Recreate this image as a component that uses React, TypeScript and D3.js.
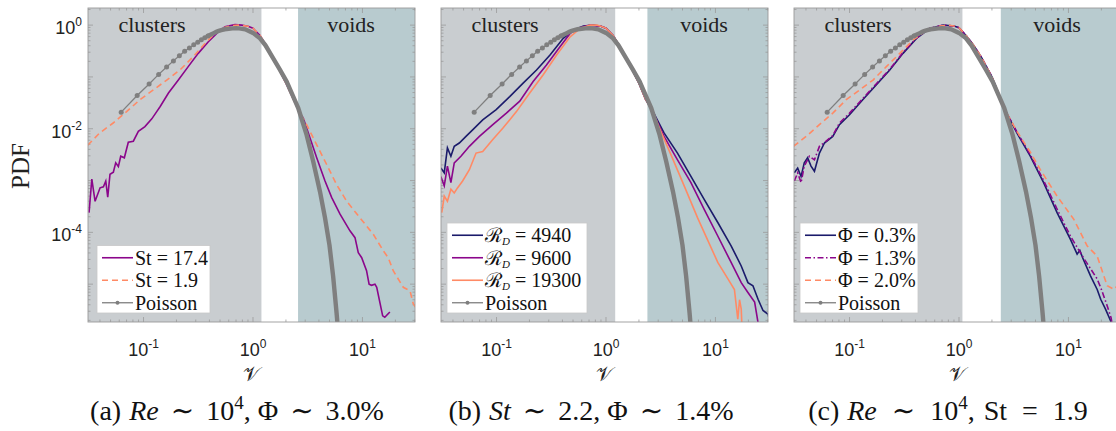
import React from "react";
import * as d3 from "d3";

// ---- data: [v, pdf] ----
const poisson: [number, number][] = [
  [0.0625, 0.0209], [0.0875, 0.0437], [0.1125, 0.0733], [0.1375, 0.112], [0.1625, 0.155],
  [0.1875, 0.204], [0.2125, 0.257], [0.2375, 0.313], [0.2625, 0.363], [0.2875, 0.417],
  [0.3125, 0.468], [0.3375, 0.519], [0.3625, 0.569], [0.3875, 0.617], [0.4125, 0.661],
  [0.4375, 0.7], [0.4625, 0.741], [0.4875, 0.776], [0.5125, 0.8], [0.55, 0.832],
  [0.6, 0.851], [0.65, 0.865], [0.7, 0.871], [0.75, 0.867], [0.85, 0.832], [1.0, 0.708],
  [1.16, 0.555], [1.3, 0.407], [1.53, 0.229], [1.75, 0.141], [2.03, 0.0813], [2.3, 0.0447],
  [2.59, 0.0251], [3.09, 0.00759], [3.55, 0.00234], [4.09, 6.17e-4], [4.55, 1.91e-4],
  [5.0, 5.6e-5], [5.4, 1.41e-5], [5.8, 2.8e-6], [6.1, 7.9e-7],
];

const st174: [number, number][] = [
  [0.0318, 2.4e-4], [0.0337, 1.07e-3], [0.0361, 3.98e-4], [0.0401, 7.24e-4], [0.043, 7.59e-4],
  [0.0452, 9.77e-4], [0.0471, 4.79e-4], [0.0494, 1.32e-3], [0.053, 1.45e-3], [0.0557, 2.19e-3],
  [0.0589, 1.86e-3], [0.0619, 2.95e-3], [0.0668, 2.75e-3], [0.0726, 5.5e-3], [0.0807, 5.75e-3],
  [0.0897, 8.9e-3], [0.103, 0.011], [0.119, 0.0155], [0.132, 0.0214], [0.142, 0.0269],
  [0.169, 0.049], [0.208, 0.087], [0.256, 0.158], [0.316, 0.285], [0.391, 0.479],
  [0.482, 0.741], [0.555, 0.933], [0.685, 1.02], [0.789, 1.0], [0.9, 0.95], [1.0, 0.87],
  [1.16, 0.63], [1.35, 0.38], [1.6, 0.19], [2.0, 0.076], [2.4, 0.033], [2.69, 0.02],
  [2.88, 0.0161], [3.32, 6.6e-3], [3.82, 2.75e-3], [4.55, 9.8e-4], [5.24, 4.68e-4],
  [6.24, 2.24e-4], [7.69, 1.07e-4], [8.55, 7.9e-5], [9.16, 4.07e-5], [9.84, 3.24e-5],
  [10.9, 1.82e-5], [11.5, 1.0e-5], [12.1, 9.5e-6], [13.0, 1.0e-5], [13.5, 8.7e-6],
  [14.5, 4.2e-6], [15.3, 2.45e-6], [16.0, 2.3e-6], [17.8, 2.9e-6],
];

const st19: [number, number][] = [
  [0.0309, 4.8e-3], [0.0398, 8.3e-3], [0.0528, 0.0129], [0.07, 0.0214], [0.0927, 0.0363],
  [0.123, 0.0562], [0.163, 0.0871], [0.215, 0.136], [0.284, 0.245], [0.377, 0.479],
  [0.465, 0.74], [0.55, 0.9], [0.65, 0.98], [0.75, 1.0], [0.9, 0.95], [1.0, 0.87],
  [1.16, 0.63], [1.35, 0.38], [1.6, 0.19], [2.0, 0.076], [2.4, 0.033], [2.69, 0.02],
  [3.09, 0.012], [3.82, 4.9e-3], [4.71, 2.04e-3], [5.81, 8.3e-4], [7.18, 3.98e-4],
  [9.48, 1.91e-4], [12.6, 9.1e-5], [15.5, 4.4e-5], [17.2, 3.24e-5], [19.1, 1.82e-5],
  [23.6, 8.7e-6], [27.2, 7.4e-6], [29.1, 4.2e-6], [31.6, 3.2e-6],
];

const rd4940: [number, number][] = [
  [0.031, 1.75e-3], [0.0333, 1.41e-3], [0.0356, 4.27e-3], [0.0383, 2.95e-3], [0.0411, 4.57e-3],
  [0.0457, 5.3e-3], [0.0526, 7.1e-3], [0.0605, 9.5e-3], [0.0748, 0.0148], [0.0993, 0.0234],
  [0.132, 0.0417], [0.175, 0.0759], [0.232, 0.136], [0.308, 0.265], [0.407, 0.555],
  [0.504, 0.8], [0.622, 0.955], [0.769, 1.0], [0.9, 0.95], [1.0, 0.87], [1.16, 0.63],
  [1.35, 0.38], [1.6, 0.19], [2.0, 0.076], [2.3, 0.037], [2.56, 0.026], [3.39, 8.3e-3],
  [4.5, 3.39e-3], [5.97, 1.2e-3], [7.91, 4.27e-4], [10.5, 1.55e-4], [13.9, 5.5e-5],
  [17.2, 2.24e-5], [19.8, 1.07e-5], [22.0, 9.3e-6], [24.5, 5.1e-6], [27.2, 3.1e-6],
  [30.3, 2.6e-6], [32, 1.5e-6],
];

const rd9600: [number, number][] = [
  [0.031, 1.2e-3], [0.0333, 7.9e-4], [0.0356, 1.9e-3], [0.0383, 9.1e-4], [0.0411, 2.19e-3],
  [0.0473, 2.95e-3], [0.0565, 4.57e-3], [0.0698, 7.1e-3], [0.0925, 0.012], [0.123, 0.02],
  [0.163, 0.034], [0.216, 0.0813], [0.286, 0.17], [0.38, 0.383], [0.47, 0.692],
  [0.581, 0.9], [0.718, 1.0], [0.9, 0.95], [1.0, 0.87], [1.16, 0.63], [1.35, 0.38],
  [1.6, 0.19], [2.0, 0.076], [2.3, 0.037], [2.56, 0.026], [3.39, 7.1e-3], [4.5, 2.51e-3],
  [5.97, 9.1e-4], [7.91, 2.75e-4], [10.5, 8.5e-5], [13.9, 2.63e-5], [17.2, 1.07e-5],
  [19.8, 6.9e-6], [22.8, 4.5e-6], [24.5, 1.8e-6], [25.1, 1e-6],
];

const rd19300: [number, number][] = [
  [0.0316, 2.4e-4], [0.0333, 5.0e-4], [0.0356, 3.98e-4], [0.0383, 6.8e-4], [0.0411, 5.75e-4],
  [0.044, 7.2e-4], [0.049, 9.8e-4], [0.0565, 1.62e-3], [0.065, 3.39e-3], [0.0748, 3.63e-3],
  [0.0925, 6.2e-3], [0.114, 0.0102], [0.152, 0.0214], [0.201, 0.049], [0.267, 0.11],
  [0.354, 0.265], [0.47, 0.596], [0.581, 0.863], [0.718, 1.0], [0.826, 1.0], [0.9, 0.95],
  [1.0, 0.87], [1.16, 0.63], [1.35, 0.38], [1.6, 0.19], [2.0, 0.076], [2.3, 0.037],
  [2.56, 0.026], [3.16, 9e-3], [3.91, 3.2e-3], [5.18, 7.9e-4], [6.87, 1.9e-4],
  [8.49, 7.1e-5], [10.5, 2.63e-5], [13.0, 1.26e-5], [14.9, 7.9e-6], [16.0, 2.1e-6],
  [16.6, 5e-6], [17.2, 3.3e-6], [17.6, 1e-6],
];

const phi03: [number, number][] = [
  [0.0313, 1.41e-3], [0.0336, 1.74e-3], [0.0361, 1.2e-3], [0.0386, 2.19e-3], [0.0414, 2.75e-3],
  [0.0445, 1.9e-3], [0.0478, 1.51e-3], [0.0531, 3.39e-3], [0.059, 5.3e-3], [0.0703, 7.1e-3],
  [0.0809, 0.012], [0.1, 0.0186], [0.132, 0.0363], [0.176, 0.0708], [0.233, 0.136],
  [0.308, 0.285], [0.409, 0.555], [0.542, 0.863], [0.718, 1.0], [0.9, 0.96], [1.0, 0.89],
  [1.16, 0.63], [1.35, 0.42], [1.6, 0.24], [2.0, 0.1], [2.3, 0.048], [2.55, 0.026],
  [3.38, 8.3e-3], [4.48, 2.95e-3], [5.93, 9.1e-4], [7.87, 2.4e-4], [10.4, 7.4e-5],
  [12.0, 3.8e-5], [12.7, 4.5e-5], [13.5, 3.2e-5], [15.9, 1.45e-5], [18.3, 7.9e-6],
  [19.7, 5.1e-6], [21.8, 3.3e-6], [24.3, 1.95e-6], [25.1, 1.26e-6],
];

const phi13: [number, number][] = [
  [0.0313, 9.8e-4], [0.0336, 1.41e-3], [0.0361, 9.1e-4], [0.0386, 1.9e-3], [0.043, 2.95e-3],
  [0.0478, 2.51e-3], [0.0531, 4.57e-3], [0.0611, 5.75e-3], [0.0703, 7.4e-3], [0.0809, 0.0129],
  [0.1, 0.02], [0.132, 0.038], [0.176, 0.0741], [0.233, 0.141], [0.308, 0.295],
  [0.409, 0.562], [0.542, 0.871], [0.718, 1.0], [0.9, 0.96], [1.0, 0.89], [1.16, 0.63],
  [1.35, 0.42], [1.6, 0.24], [2.0, 0.1], [2.3, 0.048], [2.55, 0.026], [3.38, 8.7e-3],
  [4.48, 3.16e-3], [5.93, 1.0e-3], [7.87, 2.82e-4], [10.4, 8.5e-5], [13.8, 3.16e-5],
  [18.3, 1.26e-5], [20, 7.9e-6], [22.6, 3.8e-6], [24.5, 2.24e-6], [25.7, 1.26e-6],
];

const phi20: [number, number][] = [
  [0.0308, 4.57e-3], [0.0401, 7.1e-3], [0.0531, 0.012], [0.0703, 0.02], [0.0933, 0.0363],
  [0.124, 0.0562], [0.164, 0.0871], [0.217, 0.158], [0.288, 0.285], [0.381, 0.513],
  [0.506, 0.8], [0.67, 0.955], [0.79, 1.0], [0.9, 0.96], [1.0, 0.89], [1.16, 0.63],
  [1.35, 0.42], [1.6, 0.24], [2.0, 0.1], [2.3, 0.048], [2.55, 0.026], [3.38, 8.9e-3],
  [4.48, 3.55e-3], [5.53, 1.62e-3], [7.87, 5.0e-4], [11.2, 1.78e-4], [14.8, 5.5e-5],
  [18.3, 3.47e-5], [22.6, 9.3e-6], [26.1, 7.9e-6], [28.8, 1.0e-5], [32, 6e-6],
];

// shaded region limits (v) per panel
const clusterEnds = [1.2, 1.22, 1.08];
const voidStarts = [2.58, 2.39, 2.41];

const xTickLabels = [
  { v: 0.1, exp: "-1" },
  { v: 1, exp: "0" },
  { v: 10, exp: "1" },
];
const yTickLabels = [
  { v: 1, exp: "0" },
  { v: 1e-2, exp: "-2" },
  { v: 1e-4, exp: "-4" },
];

const NAVY = "#1b1b6b";
const PURPLE = "#8b068b";
const SALMON = "#ff8a65";
const GREY = "#7f7f7f";

const SERIF = "'Liberation Serif', 'DejaVu Serif', serif";
const SANS = "'Liberation Sans', Arial, sans-serif";

type Series = { data: [number, number][]; color: string; dash?: string; label: string };

const panels: { series: Series[] }[] = [
  {
    series: [
      { data: st174, color: PURPLE, label: "St = 17.4" },
      { data: st19, color: SALMON, dash: "6,4", label: "St = 1.9" },
    ],
  },
  {
    series: [
      { data: rd4940, color: NAVY, label: "4940" },
      { data: rd9600, color: PURPLE, label: "9600" },
      { data: rd19300, color: SALMON, label: "19300" },
    ],
  },
  {
    series: [
      { data: phi03, color: NAVY, label: "Φ = 0.3%" },
      { data: phi13, color: PURPLE, dash: "6,2.5,1.5,2.5", label: "Φ = 1.3%" },
      { data: phi20, color: SALMON, dash: "6,4", label: "Φ = 2.0%" },
    ],
  },
];

const PANEL_LEFT = [88, 441, 794];
const TOP = 8;
const BOTTOM = 322;
const PW = 327;

const x0 = d3.scaleLog().domain([0.0311, 30.2]).range([0, PW]);
const y = d3.scaleLog().domain([1.86e-6, 2.14]).range([BOTTOM, TOP]);

function logTicks(lo: number, hi: number, e0: number, e1: number) {
  const out: { v: number; major: boolean }[] = [];
  for (let e = e0; e <= e1; e++) {
    for (let k = 1; k <= 9; k++) {
      const v = k * Math.pow(10, e);
      if (v >= lo && v <= hi) out.push({ v, major: k === 1 });
    }
  }
  return out;
}

const xTicks = logTicks(0.0311, 30.2, -2, 1);
const yTicks = logTicks(1.86e-6, 2.14, -6, 0);

function Panel({ idx }: { idx: number }) {
  const left = PANEL_LEFT[idx];
  const x = x0.copy().range([left, left + PW]);
  const line = d3
    .line<[number, number]>()
    .x((d) => x(d[0]))
    .y((d) => y(d[1]));
  const cfg = panels[idx];
  const clipId = `clip-${idx}`;
  const tickCol = "#9a9a9a";

  const cEnd = x(clusterEnds[idx]);
  const vStart = x(voidStarts[idx]);

  const legendRows = cfg.series.length + 1;
  const boxX = left + (idx === 0 ? 9 : 6);
  const boxW = idx === 0 ? 113 : idx === 1 ? 140 : 118;
  const rowH = 22.5;
  const boxH = legendRows * rowH;
  const boxY = BOTTOM - 9 - boxH;

  return (
    <g>
      <defs>
        <clipPath id={clipId}>
          <rect x={left} y={TOP} width={PW} height={BOTTOM - TOP} />
        </clipPath>
      </defs>
      <rect x={left} y={TOP} width={cEnd - left} height={BOTTOM - TOP} fill="#c9cdd0" />
      <rect x={cEnd} y={TOP} width={vStart - cEnd} height={BOTTOM - TOP} fill="#ffffff" />
      <rect x={vStart} y={TOP} width={left + PW - vStart} height={BOTTOM - TOP} fill="#b8cbcf" />

      {/* ticks */}
      {xTicks.map((t, i) => {
        const px = x(t.v);
        const len = t.major ? 5 : 2.5;
        return (
          <g key={"xt" + i} stroke={tickCol} strokeWidth={0.8}>
            <line x1={px} x2={px} y1={BOTTOM} y2={BOTTOM - len} />
            <line x1={px} x2={px} y1={TOP} y2={TOP + len} />
          </g>
        );
      })}
      {yTicks.map((t, i) => {
        const py = y(t.v);
        const len = t.major ? 5 : 2.5;
        return (
          <g key={"yt" + i} stroke={tickCol} strokeWidth={0.8}>
            <line x1={left} x2={left + len} y1={py} y2={py} />
            <line x1={left + PW} x2={left + PW - len} y1={py} y2={py} />
          </g>
        );
      })}

      {/* region labels */}
      <text x={left + 64} y={32} textAnchor="middle" fontFamily={SERIF} fontSize={22} fill="#222">
        clusters
      </text>
      <text x={left + 263} y={32} textAnchor="middle" fontFamily={SERIF} fontSize={22} fill="#222">
        voids
      </text>

      <g clipPath={`url(#${clipId})`}>
        {cfg.series.map((s, i) => (
          <path
            key={i}
            d={line(s.data) || ""}
            fill="none"
            stroke={s.color}
            strokeWidth={1.6}
            strokeDasharray={s.dash}
          />
        ))}
        <path d={line(poisson) || ""} fill="none" stroke={GREY} strokeWidth={1.3} />
        <path
          d={line(poisson.filter((d) => d[0] >= 0.38)) || ""}
          fill="none"
          stroke={GREY}
          strokeWidth={4.4}
          strokeLinecap="round"
        />
        {poisson
          .filter((d) => d[0] < 0.4)
          .map((d, i) => (
            <circle key={i} cx={x(d[0])} cy={y(d[1])} r={2.5} fill={GREY} />
          ))}
      </g>

      <rect
        x={left}
        y={TOP}
        width={PW}
        height={BOTTOM - TOP}
        fill="none"
        stroke={tickCol}
        strokeWidth={0.9}
      />

      {/* legend */}
      <rect x={boxX} y={boxY} width={boxW} height={boxH} fill="#fff" stroke="#c8c8c8" strokeWidth={0.8} />
      {cfg.series.map((s, i) => {
        const cy = boxY + rowH * (i + 0.5) + 1;
        return (
          <g key={"lg" + i}>
            <line
              x1={boxX + 5}
              x2={boxX + 36}
              y1={cy}
              y2={cy}
              stroke={s.color}
              strokeWidth={1.6}
              strokeDasharray={s.dash}
            />
            <text x={boxX + 38} y={cy + 7} fontFamily={SERIF} fontSize={20} fill="#111">
              {idx === 1 ? (
                <>
                  ℛ
                  <tspan dy={3} fontSize={11} fontStyle="italic">
                    D
                  </tspan>
                  <tspan dy={-3}>{" = " + s.label}</tspan>
                </>
              ) : (
                s.label
              )}
            </text>
          </g>
        );
      })}
      {(() => {
        const cy = boxY + rowH * (cfg.series.length + 0.5) + 1;
        return (
          <g>
            <line x1={boxX + 5} x2={boxX + 36} y1={cy} y2={cy} stroke={GREY} strokeWidth={1.3} />
            <circle cx={boxX + 20.5} cy={cy} r={2} fill={GREY} />
            <text x={boxX + 38} y={cy + 7} fontFamily={SERIF} fontSize={20} fill="#111">
              Poisson
            </text>
          </g>
        );
      })()}

      {/* x tick labels */}
      {xTickLabels.map((t) => (
        <text
          key={t.exp}
          x={x(t.v)}
          y={356}
          textAnchor="middle"
          fontFamily={SANS}
          fontSize={18}
          fill="#222"
        >
          10
          <tspan dy={-8} fontSize={12}>
            {t.exp}
          </tspan>
        </text>
      ))}
      <text
        x={left + PW / 2}
        y={381}
        textAnchor="middle"
        fontFamily={SERIF}
        fontSize={20}
        fill="#222"
      >
        𝒱
      </text>

      {idx === 0 &&
        yTickLabels.map((t) => (
          <text
            key={t.exp}
            x={82}
            y={y(t.v) + 9}
            textAnchor="end"
            fontFamily={SANS}
            fontSize={18}
            fill="#222"
          >
            10
            <tspan dy={-8} fontSize={12}>
              {t.exp}
            </tspan>
          </text>
        ))}
    </g>
  );
}

export default function App() {
  const captionX = [237, 591, 948];
  const capProps = {
    y: 420,
    textAnchor: "middle" as const,
    fontFamily: SERIF,
    fontSize: 28,
    fill: "#111",
  };
  return (
    <svg
      width={1116}
      height={431}
      style={{ position: "absolute", left: 0, top: 0, background: "#fff" }}
    >
      <rect width={1116} height={431} fill="#fff" />
      <text
        transform="translate(29,166) rotate(-90)"
        textAnchor="middle"
        fontFamily={SERIF}
        fontSize={25}
        fill="#222"
      >
        PDF
      </text>
      {[0, 1, 2].map((i) => (
        <Panel key={i} idx={i} />
      ))}

      <text x={captionX[0]} {...capProps}>
        (a)
        <tspan dx={8} fontStyle="italic">Re</tspan>
        <tspan dx={12}>∼</tspan>
        <tspan dx={12}>10</tspan>
        <tspan dy={-11} fontSize={19}>4</tspan>
        <tspan dy={11}>,</tspan>
        <tspan dx={7}>Φ</tspan>
        <tspan dx={12}>∼</tspan>
        <tspan dx={12}>3.0%</tspan>
      </text>
      <text x={captionX[1]} {...capProps}>
        (b)
        <tspan dx={8} fontStyle="italic">St</tspan>
        <tspan dx={12}>∼</tspan>
        <tspan dx={12}>2.2,</tspan>
        <tspan dx={7}>Φ</tspan>
        <tspan dx={12}>∼</tspan>
        <tspan dx={12}>1.4%</tspan>
      </text>
      <text x={captionX[2]} {...capProps}>
        (c)
        <tspan dx={8} fontStyle="italic">Re</tspan>
        <tspan dx={15}>∼</tspan>
        <tspan dx={15}>10</tspan>
        <tspan dy={-11} fontSize={19}>4</tspan>
        <tspan dy={11}>,</tspan>
        <tspan dx={9}>St</tspan>
        <tspan dx={15}>=</tspan>
        <tspan dx={15}>1.9</tspan>
      </text>
    </svg>
  );
}
